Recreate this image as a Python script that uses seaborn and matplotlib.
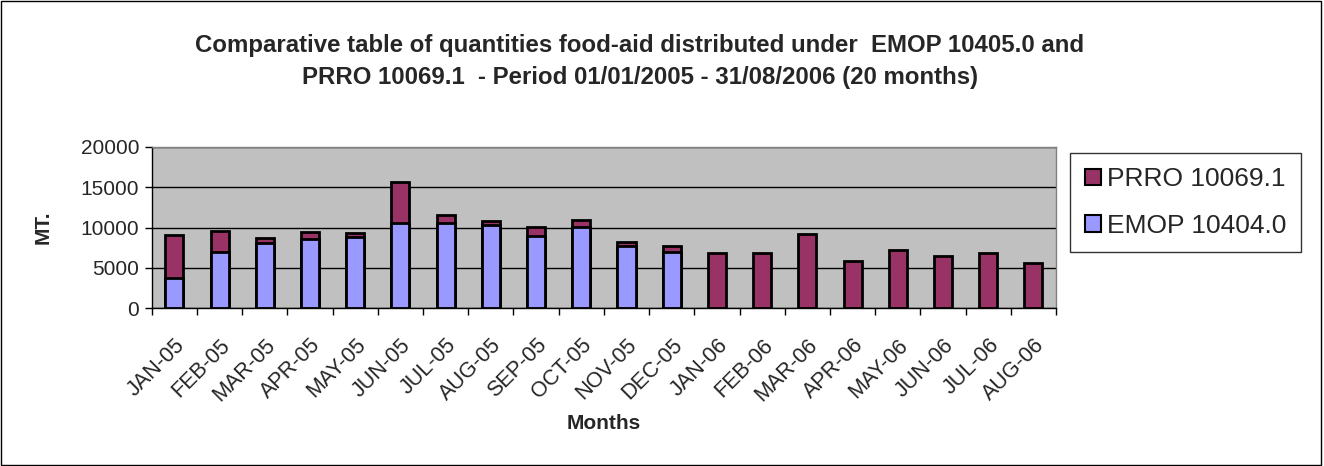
import matplotlib
matplotlib.use("Agg")
import matplotlib.pyplot as plt
import matplotlib.patches as mpatches
import seaborn as sns
import pandas as pd

months = ["JAN-05", "FEB-05", "MAR-05", "APR-05", "MAY-05", "JUN-05", "JUL-05",
          "AUG-05", "SEP-05", "OCT-05", "NOV-05", "DEC-05", "JAN-06", "FEB-06",
          "MAR-06", "APR-06", "MAY-06", "JUN-06", "JUL-06", "AUG-06"]
emop = [3800, 6950, 8050, 8550, 8800, 10550, 10550, 10250, 9000, 10100, 7650, 7000,
        0, 0, 0, 0, 0, 0, 0, 0]
prro = [5300, 2650, 650, 950, 550, 5050, 1050, 550, 1100, 800, 600, 750,
        6900, 6900, 9150, 5900, 7250, 6500, 6800, 5650]
yticks = [0, 5000, 10000, 15000, 20000]

PRRO_C = "#993366"
EMOP_C = "#9999FF"

sns.set_theme(style="white")
plt.rcParams["font.family"] = ["Liberation Sans", "DejaVu Sans"]

df = pd.DataFrame({"month": months, "emop": emop, "prro": prro})
df["total"] = df["emop"] + df["prro"]

fig = plt.figure(figsize=(13.24, 4.66), dpi=100)
ax = fig.add_axes([0.1146, 0.3384, 0.7976 - 0.1146, 0.6852 - 0.3384])
ax.set_facecolor("#C0C0C0")

sns.barplot(data=df, x="month", y="total", color=PRRO_C, saturation=1,
            width=0.4, edgecolor="black", linewidth=2, ax=ax, zorder=3)
df_e = df[df["emop"] > 0]
sns.barplot(x=df_e["month"], y=df_e["emop"], order=months, color=EMOP_C, saturation=1,
            width=0.4, edgecolor="black", linewidth=2, ax=ax, zorder=4)

ax.set_ylim(0, 20000)
ax.set_xlim(-0.5, len(months) - 0.5)
ax.set_yticks(yticks)
ax.set_yticklabels([str(v) for v in yticks], fontsize=15)
ax.yaxis.grid(True, color="black", linewidth=1)
ax.set_axisbelow(True)
for gl in ax.get_ygridlines():
    gl.set_zorder(1)

ax.set_xticks(range(len(months)))
ax.set_xticklabels(months, rotation=45, ha="right", rotation_mode="anchor", fontsize=15.5)
ax.set_xticks([i - 0.5 for i in range(len(months) + 1)], minor=True)
ax.tick_params(axis="x", which="major", length=0, pad=19)
ax.tick_params(axis="x", which="minor", length=5, width=1, color="black", direction="out", bottom=True)
ax.tick_params(axis="y", which="major", length=5, width=1, color="black", direction="out", left=True, pad=4)

ax.spines["left"].set_color("black")
ax.spines["bottom"].set_color("black")
ax.spines["top"].set_color("#808080")
ax.spines["right"].set_color("#808080")
for s in ax.spines.values():
    s.set_visible(True)
    s.set_linewidth(1)
    s.set_zorder(5)

ax.set_xlabel("Months", fontsize=15, fontweight="bold", labelpad=6)
ax.set_ylabel("MT.", fontsize=15, fontweight="bold", labelpad=20)

fig.text(0.4834, 0.903, "Comparative table of quantities food-aid distributed under  EMOP 10405.0 and",
         ha="center", va="center", fontsize=17.3, fontweight="bold")
fig.text(0.4834, 0.833, "PRRO 10069.1  - Period 01/01/2005 - 31/08/2006 (20 months)",
         ha="center", va="center", fontsize=17.3, fontweight="bold")

handles = [mpatches.Patch(facecolor=PRRO_C, edgecolor="black", linewidth=1.5, label="PRRO 10069.1"),
           mpatches.Patch(facecolor=EMOP_C, edgecolor="black", linewidth=1.5, label="EMOP 10404.0")]
leg = fig.legend(handles=handles, loc="upper left", bbox_to_anchor=(0.8085, 0.672),
                 fontsize=19, frameon=True, fancybox=False, edgecolor="black",
                 handlelength=0.6, handleheight=0.6, handletextpad=0.25,
                 labelspacing=0.85, borderpad=0.55, borderaxespad=0)
leg.get_frame().set_linewidth(1)

fig.add_artist(mpatches.Rectangle((0.001, 0.002), 0.997, 0.995, transform=fig.transFigure,
                                  fill=False, edgecolor="black", linewidth=1))

fig.savefig("out.png", dpi=100)
